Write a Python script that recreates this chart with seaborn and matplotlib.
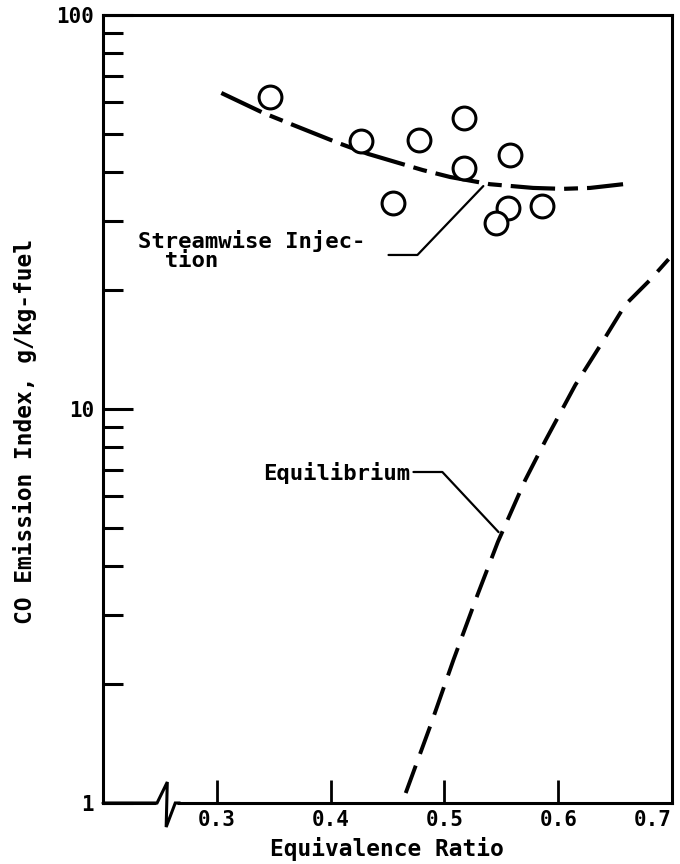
import matplotlib
matplotlib.use("Agg")
import matplotlib.pyplot as plt
import seaborn as sns
import pandas as pd

# ---------------- data ----------------
meas_phi = [0.347, 0.427, 0.478, 0.517, 0.517, 0.558, 0.455, 0.556, 0.545, 0.586]
meas_ei = [62.0, 47.9, 48.2, 54.8, 40.9, 44.1, 33.3, 32.4, 29.7, 32.7]

stream_phi = [0.304, 0.341, 0.367, 0.407, 0.433, 0.481, 0.505, 0.540, 0.578, 0.604, 0.628, 0.657]
stream_ei = [63.4, 56.4, 52.6, 47.3, 44.4, 40.4, 38.8, 37.2, 36.4, 36.2, 36.4, 37.2]

equil_phi = [0.466, 0.488, 0.508, 0.529, 0.547, 0.571, 0.589, 0.615, 0.637, 0.659, 0.681, 0.697]
equil_ei = [1.06, 1.58, 2.31, 3.37, 4.60, 6.60, 8.34, 11.5, 14.5, 18.4, 21.3, 24.0]

x_ticks = [0.3, 0.4, 0.5, 0.6, 0.7]
x_labels = ["0.3", "0.4", "0.5", "0.6", "0.7"]
y_ticks = [1, 10, 100]
y_labels = ["1", "10", "100"]
y_minor = [2, 3, 4, 5, 6, 7, 8, 9, 20, 30, 40, 50, 60, 70, 80, 90]

stream_label = "Streamwise Injec-\n  tion"
stream_label_pos = (0.2307, 22.9)
stream_leader_phi = [0.4509, 0.4763, 0.5342]
stream_leader_ei = [24.6, 24.6, 36.8]

equil_label = "Equilibrium"
equil_label_pos = (0.3404, 6.60)
equil_leader_phi = [0.4728, 0.4982, 0.5476]
equil_leader_ei = [6.92, 6.92, 4.87]

x_title = "Equivalence Ratio"
y_title = "CO Emission Index, g/kg-fuel"

# ---------------- style ----------------
sns.set_style("ticks")
plt.rcParams["font.family"] = ["DejaVu Sans Mono", "DejaVu Sans"]
plt.rcParams["font.weight"] = "bold"
plt.rcParams["text.color"] = "black"
plt.rcParams["xtick.color"] = "black"
plt.rcParams["ytick.color"] = "black"
plt.rcParams["lines.scale_dashes"] = False

fig = plt.figure(figsize=(6.8, 8.64), dpi=100)
ax = fig.add_axes([103 / 680, 61 / 864, 569 / 680, 788 / 864])
ax.set_yscale("log")
ax.set_xlim(0.2, 0.7)
ax.set_ylim(1, 100)

df_meas = pd.DataFrame({"phi": meas_phi, "ei": meas_ei})
df_stream = pd.DataFrame({"phi": stream_phi, "ei": stream_ei})
df_equil = pd.DataFrame({"phi": equil_phi, "ei": equil_ei})

sns.lineplot(data=df_stream, x="phi", y="ei", ax=ax, color="black", lw=3.0,
             linestyle=(0, (32, 6.5, 10, 6.5)), zorder=2)
sns.lineplot(data=df_equil, x="phi", y="ei", ax=ax, color="black", lw=2.8,
             linestyle=(0, (21, 9)), zorder=2)
sns.scatterplot(data=df_meas, x="phi", y="ei", ax=ax, marker="o", s=270,
                facecolor="white", edgecolor="black", linewidth=2.2, zorder=3)

# leaders and labels
ax.plot(stream_leader_phi, stream_leader_ei, color="black", lw=1.6, zorder=2)
ax.plot(equil_leader_phi, equil_leader_ei, color="black", lw=1.6, zorder=2)
ax.text(*stream_label_pos, stream_label, fontsize=16, ha="left", va="baseline",
        linespacing=0.95, color="black")
ax.text(*equil_label_pos, equil_label, fontsize=16, ha="left", va="baseline",
        color="black")

# axes
for side in ["left", "bottom", "right", "top"]:
    ax.spines[side].set_linewidth(2.2)
    ax.spines[side].set_color("black")

ax.set_xticks(x_ticks)
ax.set_xticklabels(x_labels, fontsize=15)
ax.xaxis.get_ticklabels()[-1].set_horizontalalignment("right")
ax.set_yticks(y_ticks)
ax.set_yticklabels(y_labels, fontsize=15)
ax.set_yticks(y_minor, minor=True)
ax.set_yticklabels([], minor=True)
ax.xaxis.set_minor_locator(matplotlib.ticker.NullLocator())
ax.tick_params(axis="x", which="major", direction="in", length=16.5, width=2.0,
               pad=5, top=False, colors="black")
ax.tick_params(axis="y", which="major", direction="in", length=21.5, width=2.2,
               pad=6.5, right=False, colors="black")
ax.tick_params(axis="y", which="minor", direction="in", length=14.5, width=2.2,
               right=False)
ax.set_xlabel("")
ax.set_ylabel("")

# axis break mark on the bottom spine
ax.plot([0.093, 0.13], [0, 0], transform=ax.transAxes, color="white", lw=5,
        clip_on=False, zorder=5, solid_capstyle="butt")
ax.plot([0.0, 0.095, 0.113, 0.111, 0.127, 0.135], [0, 0, 0.0266, -0.0305, 0, 0],
        transform=ax.transAxes, color="black", lw=2.2, clip_on=False, zorder=6,
        solid_joinstyle="miter")

fig.text(387 / 680, 8 / 864, x_title, fontsize=16.5, ha="center", va="baseline",
         color="black")
fig.text(25 / 680, 1 - 432 / 864, y_title, fontsize=16.5, ha="center",
         va="center", rotation=90, color="black")

fig.savefig("out.png", dpi=100)
